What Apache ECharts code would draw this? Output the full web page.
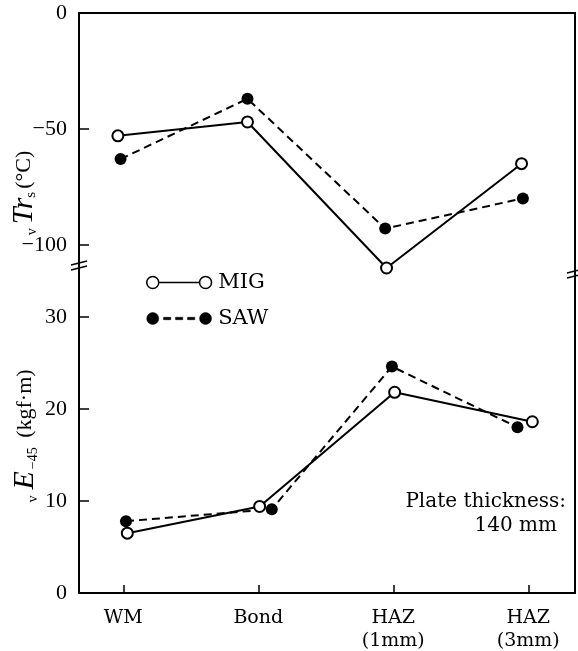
<!DOCTYPE html>
<html>
<head>
<meta charset="utf-8">
<script src="https://cdn.jsdelivr.net/npm/echarts@6/dist/echarts.min.js"></script>
<style>html,body{margin:0;padding:0;background:#fff}#c{width:578px;height:651px}</style>
</head>
<body>
<div id="c"></div>
<script>
// ---- data ----
const categories = ['WM', 'Bond', 'HAZ\n(1mm)', 'HAZ\n(3mm)'];
const categoryPos = [0, 1, 2, 3];
const trsTicks = [0, -50, -100];
const eTicks = [0, 10, 20, 30];
// vTrs (deg C)
const migTrs = [-53, -47, -110, -65];
const sawTrs = [-63, -37, -93, -80];
const migTrsX = [-0.04, 0.92, 1.95, 2.95];
const sawTrsX = [-0.02, 0.92, 1.94, 2.96];
// vE-45 (kgf·m)
const migE = [6.5, 9.4, 21.8, 18.6];
const sawE = [7.8, 9.1, 24.6, 18.0];
const migEX = [0.03, 1.01, 2.01, 3.03];
const sawEX = [0.02, 1.10, 1.99, 2.92];

const pairs = (xs, ys) => ys.map((y, i) => [xs[i], y]);

const numFont = 'Liberation Serif';
const txtFont = 'DejaVu Serif';
const X_MIN = -0.328, X_MAX = 3.346;
const TOP_MIN = -110, TOP_MAX = 0;
const BOT_MIN = 0, BOT_MAX = 35.3;

const chart = echarts.init(document.getElementById('c'), null, {renderer: 'canvas'});

const axisLine = {show: true, onZero: false, lineStyle: {color: '#000', width: 2}};

const migIcon = 'path://M1,6A5,5,0,1,1,11,6A5,5,0,1,1,1,6Z M11,6L45,6 M45,6A5,5,0,1,1,55,6A5,5,0,1,1,45,6Z';
const sawIcon = 'path://M1,6A5,5,0,1,1,11,6A5,5,0,1,1,1,6Z M15,5h6v2h-6Z M25,5h6v2h-6Z M35,5h6v2h-6Z M45,6A5,5,0,1,1,55,6A5,5,0,1,1,45,6Z';

function lineSeries(name, data, xi, yi, dashed) {
  return {
    name: name, type: 'line', xAxisIndex: xi, yAxisIndex: yi,
    data: data, clip: false, z: 3,
    symbol: dashed ? 'circle' : 'emptyCircle',
    symbolSize: dashed ? 12 : 11,
    showAllSymbol: true,
    itemStyle: dashed ? {color: '#000', borderColor: '#000', borderWidth: 0}
                      : {color: '#000', borderColor: '#000', borderWidth: 1.6},
    lineStyle: {color: '#000', width: 2, type: dashed ? [8, 5] : 'solid'},
    emphasis: {disabled: true},
    animation: false
  };
}

function breakMark(cx, cy) {
  return {
    type: 'group', x: cx, y: cy, z: 100,
    children: [
      {type: 'polygon', shape: {points: [[-7, 0], [7, -4], [7, 1], [-7, 5]]}, style: {fill: '#fff'}},
      {type: 'line', shape: {x1: -8, y1: 0, x2: 8, y2: -4}, style: {stroke: '#000', lineWidth: 1.3}},
      {type: 'line', shape: {x1: -8, y1: 5, x2: 8, y2: 1}, style: {stroke: '#000', lineWidth: 1.3}}
    ]
  };
}

const option = {
  backgroundColor: '#fff',
  animation: false,
  grid: [
    {left: 79, right: 3, top: 13, bottom: 651 - 268, outerBoundsMode: 'none', containLabel: false},
    {left: 79, right: 3, top: 268, bottom: 651 - 593, outerBoundsMode: 'none', containLabel: false}
  ],
  xAxis: [
    {type: 'value', gridIndex: 0, position: 'top', min: X_MIN, max: X_MAX,
     axisLine: axisLine, axisTick: {show: false}, axisLabel: {show: false}, splitLine: {show: false}},
    {type: 'value', gridIndex: 1, position: 'bottom', min: X_MIN, max: X_MAX,
     axisLine: axisLine,
     axisTick: {show: true, inside: true, length: 8, customValues: categoryPos, lineStyle: {color: '#000', width: 1.5}},
     axisLabel: {show: true, customValues: categoryPos, margin: 14, color: '#000',
                 fontFamily: txtFont, fontSize: 19, lineHeight: 23,
                 formatter: v => categories[Math.round(v)]},
     splitLine: {show: false}}
  ],
  yAxis: [
    {type: 'value', gridIndex: 0, position: 'left', min: TOP_MIN, max: TOP_MAX,
     axisLine: axisLine,
     axisTick: {show: true, inside: true, length: 10, customValues: trsTicks, lineStyle: {color: '#000', width: 1.5}},
     axisLabel: {show: true, customValues: trsTicks, margin: 12, color: '#000', fontFamily: numFont, fontSize: 22,
                 formatter: v => v === 0 ? '0' : '\u2212' + Math.abs(v)},
     splitLine: {show: false}},
    {type: 'value', gridIndex: 0, position: 'right', min: TOP_MIN, max: TOP_MAX,
     axisLine: axisLine, axisTick: {show: false}, axisLabel: {show: false}, splitLine: {show: false}},
    {type: 'value', gridIndex: 1, position: 'left', min: BOT_MIN, max: BOT_MAX,
     axisLine: axisLine,
     axisTick: {show: true, inside: true, length: 10, customValues: eTicks, lineStyle: {color: '#000', width: 1.5}},
     axisLabel: {show: true, customValues: eTicks, margin: 12, color: '#000', fontFamily: numFont, fontSize: 22},
     splitLine: {show: false}},
    {type: 'value', gridIndex: 1, position: 'right', min: BOT_MIN, max: BOT_MAX,
     axisLine: axisLine, axisTick: {show: false}, axisLabel: {show: false}, splitLine: {show: false}}
  ],
  legend: {
    orient: 'vertical', left: 141, top: 267, itemGap: 15,
    itemWidth: 68, itemHeight: 12, selectedMode: false,
    textStyle: {fontFamily: txtFont, fontSize: 21, color: '#000'},
    data: [
      {name: 'MIG', icon: migIcon, itemStyle: {color: '#fff', borderColor: '#000', borderWidth: 1.5}},
      {name: 'SAW', icon: sawIcon, itemStyle: {color: '#000', borderColor: '#000', borderWidth: 0.5}}
    ]
  },
  series: [
    lineSeries('MIG', pairs(migTrsX, migTrs), 0, 0, false),
    lineSeries('SAW', pairs(sawTrsX, sawTrs), 0, 0, true),
    lineSeries('MIG', pairs(migEX, migE), 1, 2, false),
    lineSeries('SAW', pairs(sawEX, sawE), 1, 2, true)
  ],
  graphic: [
    breakMark(79, 265),
    breakMark(575, 273),
    {type: 'text', x: 24, y: 193, rotation: Math.PI / 2, z: 10,
     style: {text: '{v|v}{it|Tr}{sub|s}{n|(°C)}', align: 'center', verticalAlign: 'middle', fill: '#000',
             rich: {
               v: {fontFamily: numFont, fontSize: 14, lineHeight: 14, verticalAlign: 'bottom', padding: [0, 4, 0, 0]},
               it: {fontFamily: numFont, fontStyle: 'italic', fontSize: 30, lineHeight: 30},
               sub: {fontFamily: numFont, fontSize: 15, lineHeight: 14, verticalAlign: 'bottom', padding: [0, 3, 0, 0]},
               n: {fontFamily: numFont, fontSize: 22, lineHeight: 30}
             }}},
    {type: 'text', x: 25, y: 436, rotation: Math.PI / 2, z: 10,
     style: {text: '{v|v}{it|E}{sub|\u221245}{n| (kgf\u00b7m)}', align: 'center', verticalAlign: 'middle', fill: '#000',
             rich: {
               v: {fontFamily: numFont, fontSize: 14, lineHeight: 14, verticalAlign: 'bottom', padding: [0, 6, 0, 0]},
               it: {fontFamily: numFont, fontStyle: 'italic', fontSize: 30, lineHeight: 30},
               sub: {fontFamily: numFont, fontSize: 14, lineHeight: 14, verticalAlign: 'bottom', padding: [0, 4, 0, 2]},
               n: {fontFamily: numFont, fontSize: 22, lineHeight: 30}
             }}},
    {type: 'text', x: 566, y: 502, z: 10,
     style: {text: 'Plate thickness:', align: 'right', verticalAlign: 'middle', fill: '#000',
             fontFamily: txtFont, fontSize: 20}},
    {type: 'text', x: 557, y: 526, z: 10,
     style: {text: '140 mm', align: 'right', verticalAlign: 'middle', fill: '#000',
             fontFamily: txtFont, fontSize: 20}}
  ]
};
chart.setOption(option);
</script>
</body>
</html>
